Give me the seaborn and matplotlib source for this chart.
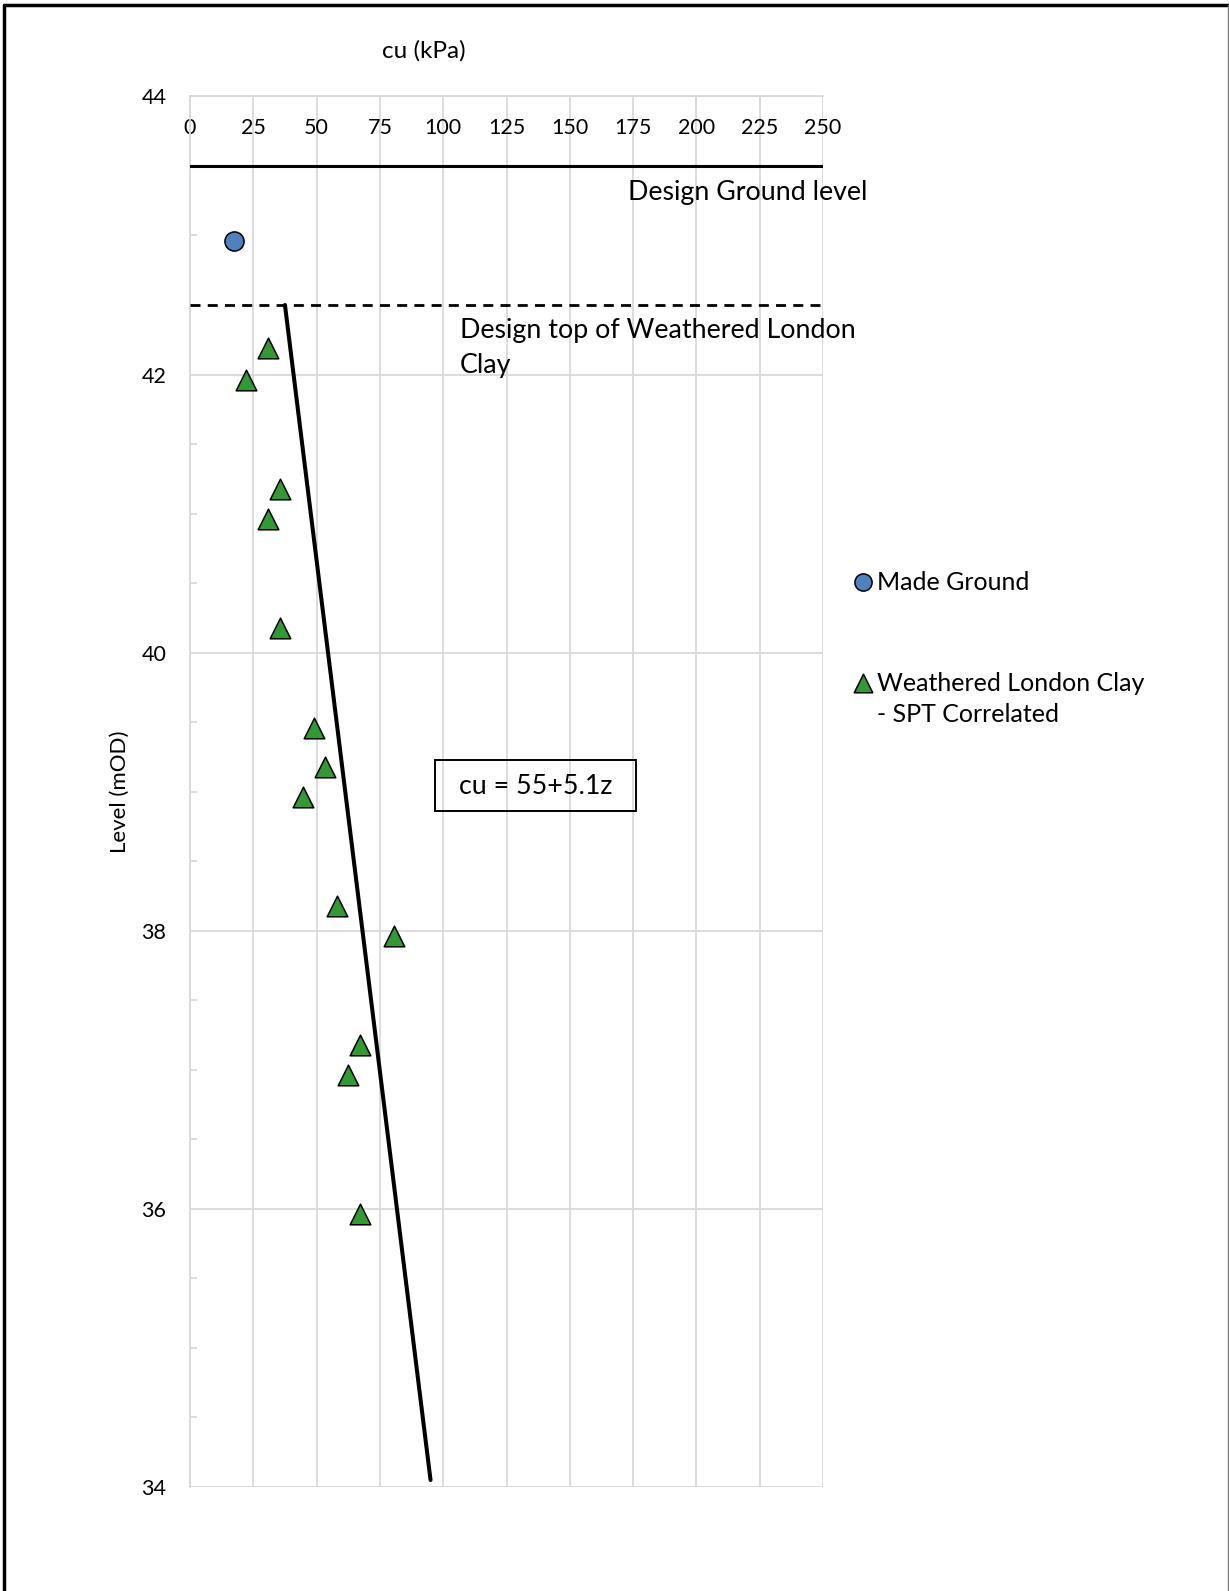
import numpy as np
import pandas as pd
import matplotlib
matplotlib.use("Agg")
import matplotlib.pyplot as plt
import seaborn as sns
from matplotlib.patches import Rectangle
from matplotlib.lines import Line2D

# ---- data ----
made_ground_cu = [17.5]
made_ground_level = [42.96]

wlc_cu = [31, 22, 35.5, 31, 35.5, 49, 53.5, 44.5, 58, 80.5, 67, 62.5, 67]
wlc_level = [42.19, 41.96, 41.18, 40.96, 40.18, 39.46, 39.18, 38.96, 38.18, 37.96, 37.18, 36.96, 35.96]

design_line_cu = [37.5, 95.0]
design_line_level = [42.5, 34.05]

ground_level = 43.5
top_wlc_level = 42.5

x_ticks = [0, 25, 50, 75, 100, 125, 150, 175, 200, 225, 250]
y_ticks = [34, 36, 38, 40, 42, 44]

sns.set_theme(style="white")
plt.rcParams['font.family'] = ['Lato', 'DejaVu Sans']
for k in ['text.color', 'axes.labelcolor', 'xtick.color', 'ytick.color']:
    plt.rcParams[k] = 'black'

W, H = 1229, 1591
fig = plt.figure(figsize=(W / 100, H / 100), dpi=100)
ax = fig.add_axes([190 / W, 1 - 1487 / H, 633 / W, (1487 - 96.4) / H])

grid_c = '#d9d9d9'
ax.set_xlim(0, 250)
ax.set_ylim(34, 44)
ax.set_xticks(x_ticks)
ax.set_yticks(y_ticks)
ax.set_yticks(np.arange(34, 44.01, 0.5), minor=True)
ax.grid(True, which='major', color=grid_c, lw=1.3)
ax.set_axisbelow(True)
for s in ['left', 'top']:
    ax.spines[s].set_color(grid_c)
    ax.spines[s].set_linewidth(1.3)
for s in ['right', 'bottom']:
    ax.spines[s].set_visible(False)

ax.xaxis.tick_top()
ax.tick_params(axis='x', which='major', length=0, labelsize=15.5, pad=-30)
ax.tick_params(axis='y', which='major', length=0, labelsize=15.5, pad=17)
ax.tick_params(axis='y', which='minor', left=True, direction='in', length=5, width=1.3, color=grid_c)

ax.set_xlabel("cu (kPa)", fontsize=17.5)
ax.xaxis.set_label_position('top')
ax.xaxis.set_label_coords(0.37, 1.028)
ax.set_ylabel("Level (mOD)", fontsize=16, labelpad=8)

# design lines
ax.plot([0, 250], [ground_level, ground_level], color='black', lw=2.2, zorder=3)
ax.plot([0, 250], [top_wlc_level, top_wlc_level], color='black', lw=2.0, ls=(0, (3.6, 2.6)), zorder=3)
sns.lineplot(x=design_line_cu, y=design_line_level, color='black', lw=2.9, ax=ax,
             sort=False, estimator=None, zorder=3)

sns.scatterplot(x=made_ground_cu, y=made_ground_level, marker='o', s=190, color='#4F81BD',
                edgecolor='black', linewidth=1.1, ax=ax, label='Made Ground', zorder=4)
sns.scatterplot(x=wlc_cu, y=wlc_level, marker='^', s=220, color='#339933',
                edgecolor='black', linewidth=1.1, ax=ax,
                label='Weathered London Clay\n- SPT Correlated', zorder=4)

ax.text(173, 43.31, "Design Ground level", fontsize=19.3, va='center', ha='left')
ax.text(106.5, 42.405, "Design top of Weathered London\nClay", fontsize=19.3, va='top',
        ha='left', linespacing=1.5)
ax.add_patch(Rectangle((96.6, 38.861), 176.3 - 96.6, 39.226 - 38.861, fill=False,
                       ec='black', lw=1.4, zorder=5))
ax.text(136.4, 39.04, "cu = 55+5.1z", fontsize=19.3, va='center', ha='center', zorder=6)

leg = ax.legend(loc='upper left', bbox_to_anchor=(0.674, 0.655), bbox_transform=fig.transFigure,
                frameon=False, fontsize=18, labelspacing=3.1, handletextpad=0.05,
                handlelength=1.0, markerscale=0.9)
for t in leg.get_texts():
    t.set_linespacing(1.45)
try:
    for col in leg._legend_handle_box.get_children():
        for row in col.get_children():
            row.align = 'top'
except Exception:
    pass

# outer frame
fig.add_artist(Line2D([4 / W, 4 / W], [0, 1 - 5 / H], transform=fig.transFigure, color='black', lw=2.5))
fig.add_artist(Line2D([4 / W, 1228 / W], [1 - 5 / H, 1 - 5 / H], transform=fig.transFigure, color='black', lw=2.5))
fig.add_artist(Line2D([1228 / W, 1228 / W], [0, 1 - 5 / H], transform=fig.transFigure, color='#808080', lw=1))

fig.savefig("out.png", dpi=100)
